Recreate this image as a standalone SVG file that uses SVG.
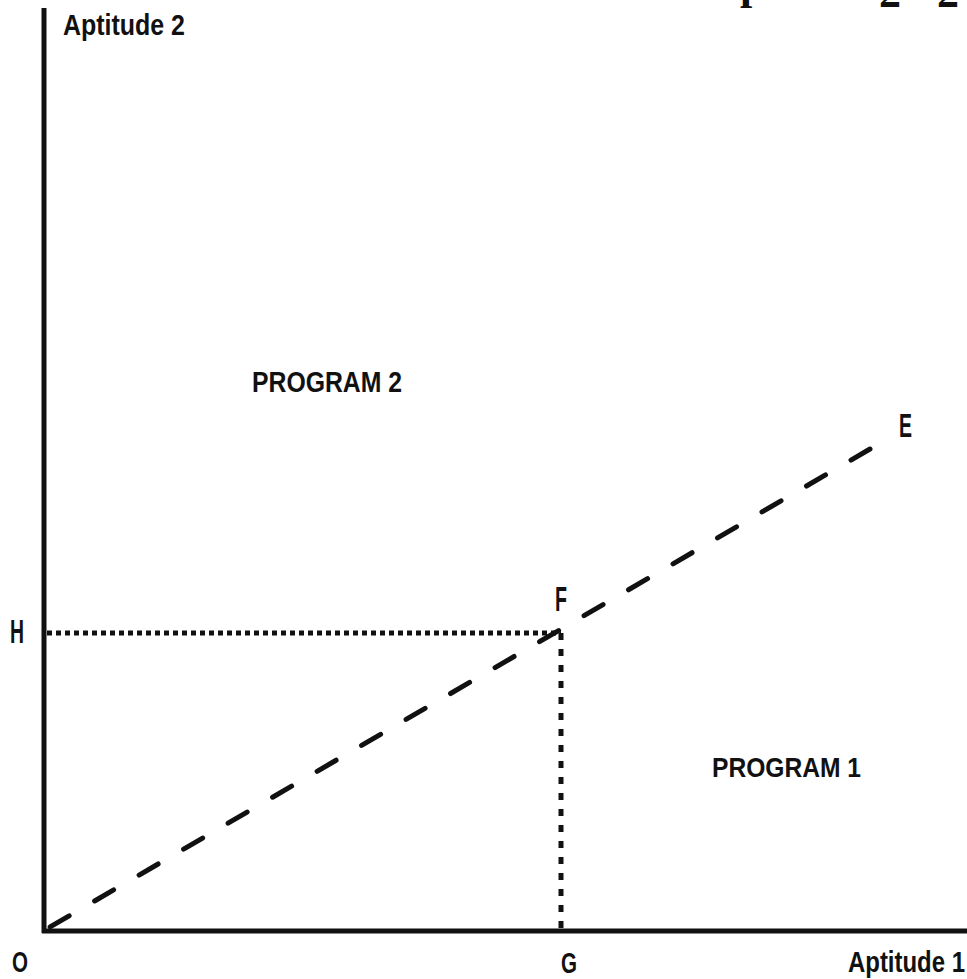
<svg xmlns="http://www.w3.org/2000/svg" width="967" height="979" viewBox="0 0 967 979">
  <style>
    .lbl { font-family: "Liberation Sans", Arial, sans-serif; font-weight: bold; fill: #111; }
    .pt { font-family: "Liberation Sans", Arial, sans-serif; font-weight: bold; fill: #111; }
    .head { font-family: "Liberation Serif", "Times New Roman", serif; font-weight: bold; font-size: 44px; fill: #111; }
    .axis { stroke: #111; stroke-width: 5; fill: none; }
    .dash { stroke: #111; stroke-width: 5; fill: none; stroke-dasharray: 22 29.5; stroke-linecap: round; }
    .dotH { stroke: #111; stroke-width: 5; fill: none; stroke-dasharray: 5 4; }
    .dotV { stroke: #111; stroke-width: 5; fill: none; stroke-dasharray: 7 9; }
  </style>
  <rect width="967" height="979" fill="#ffffff"/>

  <g id="heading-clipped">
    <text class="head" x="740" y="-1">p</text>
    <text class="head" x="879" y="7">2</text>
    <text class="head" x="937" y="7">2</text>
  </g>

  <g id="connectors">
    <line class="axis" x1="44" y1="8" x2="44" y2="933"/>
    <line class="axis" x1="42" y1="931" x2="967" y2="931" stroke-width="4"/>
    <line class="dash" x1="870" y1="449" x2="50" y2="927"/>
    <line class="dotH" x1="47" y1="633" x2="561" y2="633"/>
    <line class="dotV" x1="561" y1="633" x2="561" y2="930"/>
  </g>

  <g id="axis-y-label">
    <text class="lbl" x="63" y="35" font-size="29" textLength="122" lengthAdjust="spacingAndGlyphs">Aptitude 2</text>
  </g>
  <g id="axis-x-label">
    <text class="lbl" x="848" y="972" font-size="29" textLength="117" lengthAdjust="spacingAndGlyphs">Aptitude 1</text>
  </g>
  <g id="region-program-2">
    <text class="lbl" x="252" y="392" font-size="29" textLength="150" lengthAdjust="spacingAndGlyphs">PROGRAM 2</text>
  </g>
  <g id="region-program-1">
    <text class="lbl" x="712" y="777" font-size="28" textLength="149" lengthAdjust="spacingAndGlyphs">PROGRAM 1</text>
  </g>
  <g id="point-O">
    <text class="pt" x="12" y="972" font-size="29" textLength="16" lengthAdjust="spacingAndGlyphs">O</text>
  </g>
  <g id="point-G">
    <text class="pt" x="561" y="973" font-size="29" textLength="16" lengthAdjust="spacingAndGlyphs">G</text>
  </g>
  <g id="point-H">
    <text class="pt" x="10" y="643" font-size="34" textLength="14" lengthAdjust="spacingAndGlyphs">H</text>
  </g>
  <g id="point-F">
    <text class="pt" x="555" y="611" font-size="35" textLength="12" lengthAdjust="spacingAndGlyphs">F</text>
  </g>
  <g id="point-E">
    <text class="pt" x="899" y="437" font-size="33" textLength="13" lengthAdjust="spacingAndGlyphs">E</text>
  </g>
</svg>
